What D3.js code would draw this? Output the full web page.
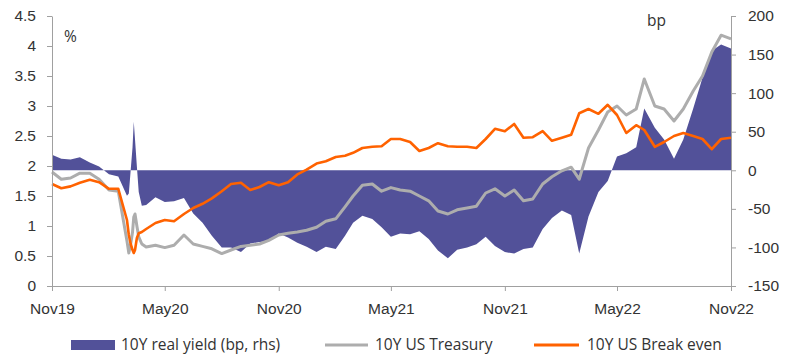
<!DOCTYPE html>
<html>
<head>
<meta charset="utf-8">
<script src="https://cdn.jsdelivr.net/npm/d3@7"></script>
<style>
  html, body { margin: 0; padding: 0; background: #fff; }
  svg { display: block; font-family: "Open Sans", "Noto Sans", sans-serif; }
</style>
</head>
<body>
<svg id="chart" width="800" height="364"></svg>
<script>
// ---- data ----
const dates = [
  "2019-11-01","2019-11-16","2019-12-01","2019-12-16","2020-01-01","2020-01-16","2020-02-01","2020-02-16",
  "2020-03-01","2020-03-04","2020-03-07","2020-03-10","2020-03-12","2020-03-14","2020-03-17","2020-03-20","2020-03-25",
  "2020-04-01","2020-04-16","2020-05-01","2020-05-16","2020-06-01","2020-06-16","2020-07-01","2020-07-16",
  "2020-08-01","2020-08-16","2020-09-01","2020-09-16","2020-10-01","2020-10-16","2020-11-01","2020-11-16",
  "2020-12-01","2020-12-16","2021-01-01","2021-01-16","2021-02-01","2021-02-16","2021-03-01","2021-03-16",
  "2021-04-01","2021-04-16","2021-05-01","2021-05-16","2021-06-01","2021-06-16","2021-07-01","2021-07-16",
  "2021-08-01","2021-08-16","2021-09-01","2021-09-16","2021-10-01","2021-10-16","2021-11-01","2021-11-16",
  "2021-12-01","2021-12-16","2022-01-01","2022-01-16","2022-02-01","2022-02-16","2022-03-01","2022-03-16",
  "2022-04-01","2022-04-16","2022-05-01","2022-05-16","2022-06-01","2022-06-14","2022-07-01","2022-07-16",
  "2022-08-01","2022-08-16","2022-09-01","2022-09-16","2022-10-01","2022-10-16","2022-11-01"
];
// 10Y US Treasury, %
const treasury = [
  1.90,1.78,1.80,1.88,1.88,1.78,1.60,1.58,
  0.75,0.55,0.70,0.90,1.15,1.20,1.00,0.82,0.70,
  0.65,0.68,0.64,0.68,0.85,0.70,0.66,0.62,
  0.54,0.60,0.66,0.68,0.70,0.76,0.85,0.88,
  0.90,0.93,0.98,1.08,1.12,1.32,1.50,1.68,
  1.70,1.58,1.64,1.60,1.58,1.50,1.42,1.25,
  1.20,1.27,1.30,1.33,1.55,1.62,1.50,1.60,
  1.42,1.45,1.70,1.82,1.92,1.98,1.78,2.30,
  2.60,2.90,3.00,2.85,2.95,3.45,3.00,2.95,
  2.75,2.95,3.25,3.50,3.90,4.18,4.12
];
// 10Y US Break even, %
const breakeven = [
  1.70,1.63,1.66,1.72,1.77,1.73,1.62,1.62,
  1.10,0.85,0.70,0.60,0.55,0.60,0.80,0.88,0.90,
  0.95,1.05,1.10,1.08,1.20,1.30,1.37,1.46,
  1.58,1.70,1.72,1.60,1.65,1.73,1.68,1.73,
  1.86,1.94,2.04,2.08,2.15,2.17,2.22,2.30,
  2.32,2.33,2.45,2.45,2.40,2.25,2.30,2.38,
  2.33,2.32,2.32,2.30,2.45,2.62,2.58,2.70,
  2.47,2.48,2.58,2.42,2.47,2.52,2.88,2.95,
  2.87,3.02,2.85,2.55,2.68,2.60,2.32,2.40,
  2.50,2.55,2.50,2.45,2.28,2.45,2.47
];
// 10Y real yield, bp (right axis)
const realYield = [
  20,15,14,17,10,5,-5,-8,
  -33,-30,0,30,63,40,5,-28,-46,
  -45,-35,-41,-40,-36,-56,-68,-85,
  -100,-100,-106,-95,-93,-92,-82,-87,
  -94,-99,-106,-99,-102,-85,-68,-59,
  -63,-74,-86,-82,-83,-79,-89,-104,
  -114,-103,-100,-96,-86,-98,-106,-108,
  -102,-100,-76,-62,-52,-58,-108,-60,
  -28,-14,18,22,30,80,55,40,
  15,40,80,120,155,163,158
];
const leftTicks = [0,0.5,1,1.5,2,2.5,3,3.5,4,4.5];
const rightTicks = [-150,-100,-50,0,50,100,150,200];
const xTickDates = ["2019-11-01","2020-05-01","2020-11-01","2021-05-01","2021-11-01","2022-05-01","2022-11-01"];
const legendLabels = ["10Y real yield (bp, rhs)","10Y US Treasury","10Y US Break even"];

// ---- chart ----
const parse = d3.timeParse("%Y-%m-%d");
const rows = dates.map((d, i) => ({date: parse(d), t: treasury[i], b: breakeven[i], r: realYield[i]}));

const blue = "#525199", grey = "#ADADAD", orange = "#FF6200", axisCol = "#A0A0A0", textCol = "#333";
const fs = "15.5px";
const svg = d3.select("#chart");
const mLeft = 52, mRight = 731, mTop = 16, mBottom = 286;

const x = d3.scaleTime().domain([parse("2019-11-01"), parse("2022-11-01")]).range([mLeft, mRight]);
const yL = d3.scaleLinear().domain([0, 4.5]).range([mBottom, mTop]);
const yR = d3.scaleLinear().domain([-150, 200]).range([mBottom, mTop]);

// area
svg.append("path").datum(rows)
  .attr("fill", blue)
  .attr("d", d3.area().x(d => x(d.date)).y0(yR(0)).y1(d => yR(d.r)));

// lines
svg.append("path").datum(rows)
  .attr("fill", "none").attr("stroke", grey).attr("stroke-width", 3).attr("stroke-linejoin", "round")
  .attr("d", d3.line().x(d => x(d.date)).y(d => yL(d.t)));
svg.append("path").datum(rows)
  .attr("fill", "none").attr("stroke", orange).attr("stroke-width", 2.6).attr("stroke-linejoin", "round")
  .attr("d", d3.line().x(d => x(d.date)).y(d => yL(d.b)));

// axes
function styleAxis(g) {
  g.selectAll(".domain").attr("stroke", axisCol);
  g.selectAll(".tick line").attr("stroke", axisCol);
  g.selectAll(".tick text").attr("fill", textCol).style("font-size", fs);
}
const gL = svg.append("g").attr("transform", `translate(${mLeft},0)`)
  .call(d3.axisLeft(yL).tickValues(leftTicks).tickSize(5).tickSizeOuter(0).tickPadding(11).tickFormat(d3.format("")));
styleAxis(gL);
const gR = svg.append("g").attr("transform", `translate(${mRight},0)`)
  .call(d3.axisRight(yR).tickValues(rightTicks).tickSize(5).tickSizeOuter(0).tickPadding(12));
styleAxis(gR);
gR.selectAll(".tick text").text(d => d < 0 ? "-" + Math.abs(d) : d);
const gX = svg.append("g").attr("transform", `translate(0,${mBottom})`)
  .call(d3.axisBottom(x).tickValues(xTickDates.map(parse)).tickSize(5).tickSizeOuter(0).tickPadding(12)
    .tickFormat(d3.timeFormat("%b%y")));
styleAxis(gX);

// unit labels
svg.append("text").attr("x", 64).attr("y", 42).attr("fill", textCol).style("font-size", fs).text("%");
svg.append("text").attr("x", 647).attr("y", 26).attr("fill", textCol).style("font-size", fs).text("bp");

// legend
const ly = 345;
const lg = svg.append("g");
lg.append("rect").attr("x", 71).attr("y", ly - 5).attr("width", 44).attr("height", 10).attr("fill", blue);
lg.append("text").attr("x", 121).attr("y", ly).attr("dy", "0.35em").attr("fill", textCol).style("font-size", fs).text(legendLabels[0]);
lg.append("line").attr("x1", 325).attr("x2", 368).attr("y1", ly).attr("y2", ly).attr("stroke", grey).attr("stroke-width", 3);
lg.append("text").attr("x", 375).attr("y", ly).attr("dy", "0.35em").attr("fill", textCol).style("font-size", fs).text(legendLabels[1]);
lg.append("line").attr("x1", 534).attr("x2", 579).attr("y1", ly).attr("y2", ly).attr("stroke", orange).attr("stroke-width", 3);
lg.append("text").attr("x", 587).attr("y", ly).attr("dy", "0.35em").attr("fill", textCol).style("font-size", fs).text(legendLabels[2]);
</script>
</body>
</html>
